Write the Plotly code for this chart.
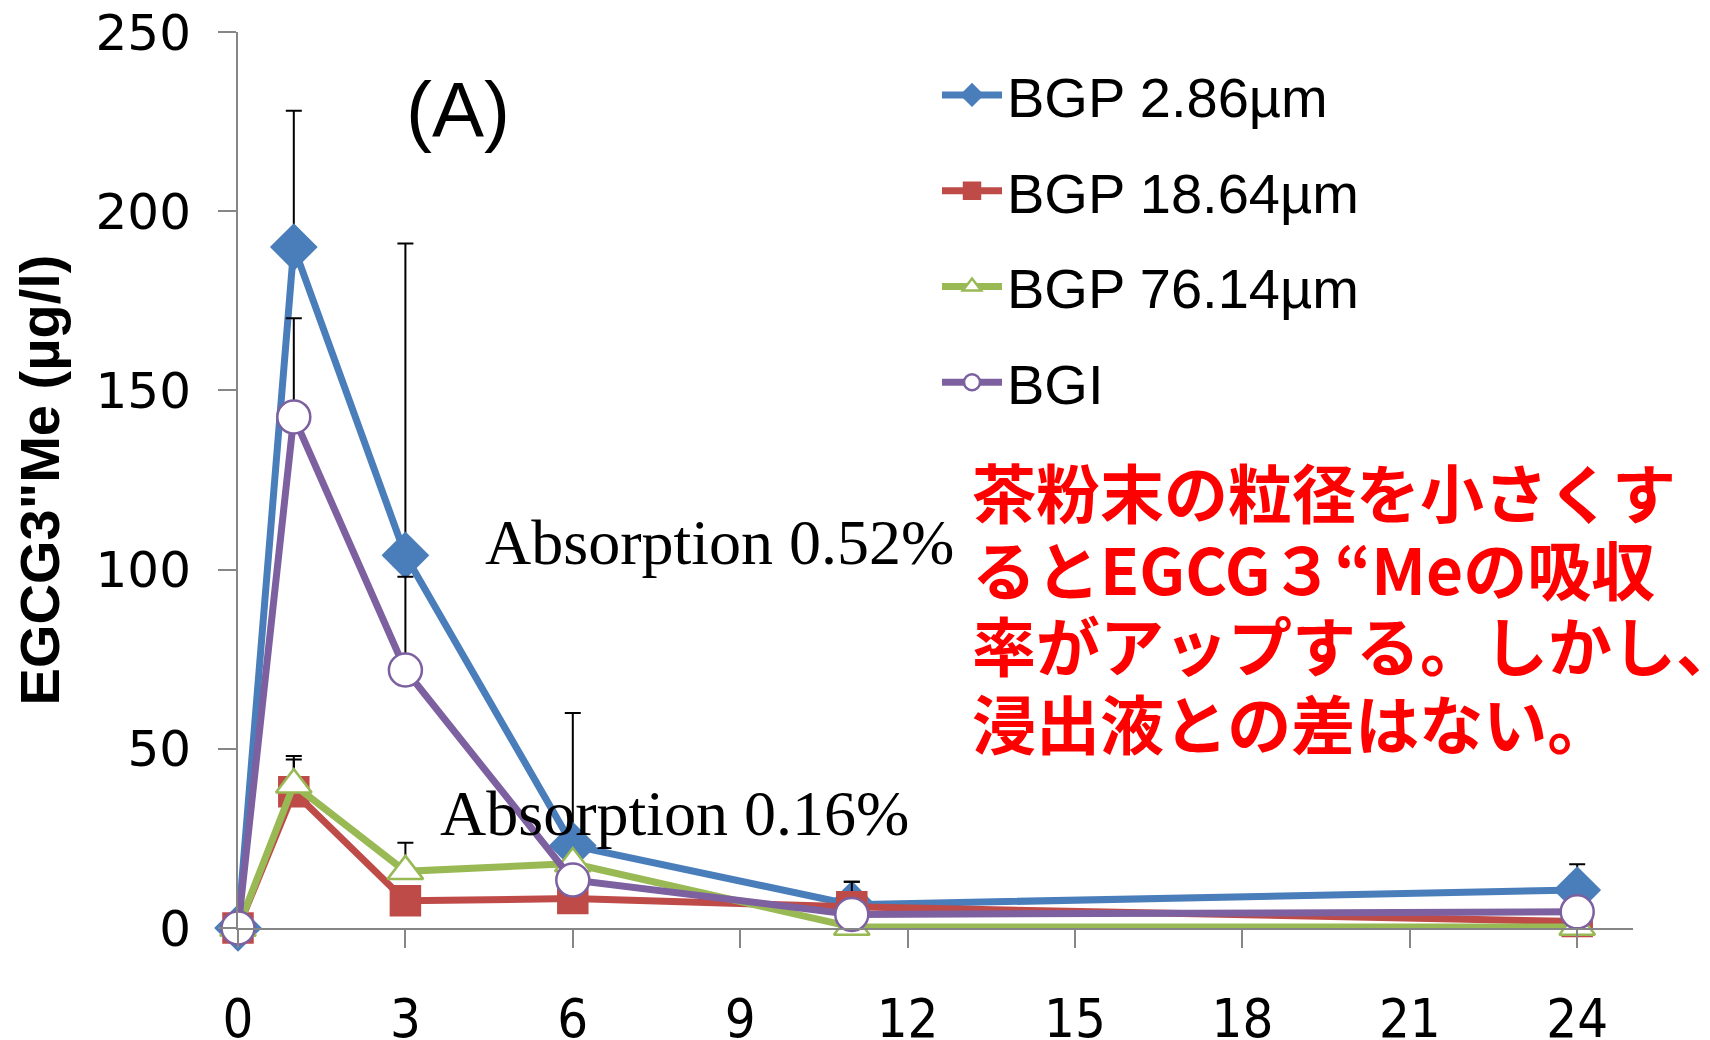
import plotly.graph_objects as go

# ---- data ----
hours = [0, 1, 3, 6, 11, 24]
series_names = ["BGP 2.86µm", "BGP 18.64µm", "BGP 76.14µm", "BGI"]
bgp_286 = [0, 190, 104, 23, 6.5, 10.6]
bgp_1864 = [0, 38, 7.6, 8.2, 5.9, 1.8]
bgp_7614 = [0, 40, 15.8, 18, 0.3, 0.3]
bgi = [0, 142.6, 72, 13.4, 3.8, 4.5]
err_286 = [None, 38, 87, 37, 6.4, 7.2]
err_1864 = [None, 9, None, None, 7, None]
err_7614 = [None, 8, 8, None, None, None]
err_bgi = [None, 27.5, 26, None, None, None]
y_ticks = [0, 50, 100, 150, 200, 250]
x_ticks = [0, 3, 6, 9, 12, 15, 18, 21, 24]
red_lines = ["茶粉末の粒径を小さくす", "るとEGCG３“Meの吸収", "率がアップする。しかし、", "浸出液との差はない。"]

colors = ["#4A7EBB", "#BE4B48", "#98B954", "#7D60A0"]
symbols = ["diamond", "square", "triangle-up", "circle"]
sizes = [34, 29, 31, 33]
fills = ["#4A7EBB", "#BE4B48", "white", "white"]

fig = go.Figure()
for i, (name, ys, es) in enumerate(zip(series_names, [bgp_286, bgp_1864, bgp_7614, bgi],
                                        [err_286, err_1864, err_7614, err_bgi])):
    fig.add_trace(go.Scatter(
        x=hours, y=ys, name=name, mode="lines+markers",
        legendgroup=f"g{i}", cliponaxis=False,
        line=dict(color=colors[i], width=7),
        marker=dict(symbol=symbols[i], size=sizes[i], color=fills[i],
                    line=dict(color=colors[i], width=2.5)),
        error_y=dict(type="data", symmetric=False, array=es,
                     arrayminus=[0] * len(es), color="black", thickness=2, width=8),
    ))

OFF = 8  # page body margin
L, T = 230, 24
W, H = 1702, 1032
pw, ph = 1395, 896
R, B = W - L - pw, H - T - ph

def px(xs):
    return (xs - OFF - L) / pw

def py(ys):
    return (H - B + OFF - ys) / ph

fig.update_layout(
    width=W, height=H,
    margin=dict(l=L, r=R, t=T, b=B, autoexpand=False),
    paper_bgcolor="white", plot_bgcolor="white",
    showlegend=True,
    legend=dict(x=px(937), y=py(52), xanchor="left", yanchor="top",
                traceorder="grouped", tracegroupgap=20,
                font=dict(family="Liberation Sans, Arial, sans-serif", size=56, color="black"),
                bgcolor="rgba(0,0,0,0)", itemwidth=60),
    xaxis=dict(range=[0, 25], tickvals=x_ticks, ticktext=[str(v) for v in x_ticks],
               showgrid=False, zeroline=False, showline=True, linecolor="#868686", linewidth=2,
               ticks="outside", ticklen=18, tickwidth=2, tickcolor="#868686",
               ticklabelstandoff=24, ticklabeloverflow="allow",
               tickfont=dict(family="Liberation Sans Narrow, DejaVu Sans Condensed, Liberation Sans, sans-serif",
                             size=54, color="black")),
    yaxis=dict(range=[0, 250], tickvals=y_ticks, ticktext=[str(v) for v in y_ticks],
               showgrid=False, zeroline=False, showline=True, linecolor="#868686", linewidth=2,
               ticks="outside", ticklen=18, tickwidth=2, tickcolor="#868686",
               ticklabelstandoff=17, ticklabeloverflow="allow",
               tickfont=dict(family="DejaVu Sans, Verdana, sans-serif", size=50, color="black"),
               title=dict(text="EGCG3\"Me (µg/l)", standoff=22,
                          font=dict(family="Liberation Sans, Arial, sans-serif",
                                    size=56, color="black", weight="bold"))),
)

fig.add_annotation(text="(A)", x=px(458), y=py(110), xref="paper", yref="paper",
                   showarrow=False, xanchor="center", yanchor="middle",
                   font=dict(family="Liberation Sans, Arial, sans-serif", size=78, color="black"))
fig.add_annotation(text="Absorption 0.52%", x=px(483), y=py(542), xref="paper", yref="paper",
                   showarrow=False, xanchor="left", yanchor="middle",
                   font=dict(family="Liberation Serif, Times New Roman, serif", size=64, color="black"))
fig.add_annotation(text="Absorption 0.16%", x=px(438), y=py(813), xref="paper", yref="paper",
                   showarrow=False, xanchor="left", yanchor="middle",
                   font=dict(family="Liberation Serif, Times New Roman, serif", size=64, color="black"))

line_y = [490, 567, 643, 721]
for txt, yy in zip(red_lines, line_y):
    fig.add_annotation(text=txt, x=px(970), y=py(yy), xref="paper", yref="paper",
                       showarrow=False, xanchor="left", yanchor="middle", align="left",
                       font=dict(family="Noto Sans CJK JP, sans-serif", size=64, color="#FF0000", weight="bold"))

fig.write_html("out.html")
